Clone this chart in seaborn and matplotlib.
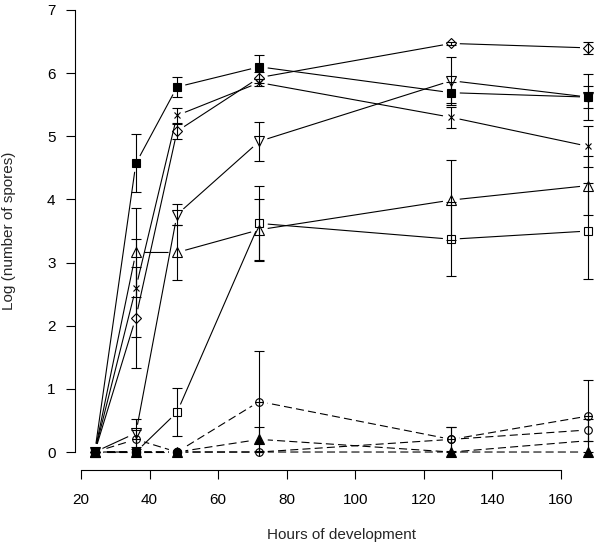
import numpy as np
import pandas as pd
import matplotlib
matplotlib.use("Agg")
import matplotlib.pyplot as plt
import seaborn as sns
from matplotlib.path import Path
from matplotlib.transforms import IdentityTransform

# ---------------- data ----------------
hours = [24, 36, 48, 72, 128, 168]
x_ticks = [20, 40, 60, 80, 100, 120, 140, 160]
y_ticks = [0, 1, 2, 3, 4, 5, 6, 7]

# solid-line series: mean log(number of spores) and standard error
filled_square = [0, 4.57, 5.78, 6.10, 5.69, 5.62]
filled_square_se = [0, 0.46, 0.16, 0.19, 0.17, 0.18]
cross = [0, 2.60, 5.33, 5.85, 5.30, 4.84]
cross_se = [0, 0.78, 0.12, 0.05, 0.17, 0.33]
open_diamond = [0, 2.13, 5.08, 5.93, 6.47, 6.40]
open_diamond_se = [0, 0.80, 0.12, 0.08, 0.03, 0.10]
down_triangle = [0, 0.30, 3.76, 4.92, 5.88, 5.62]
down_triangle_se = [0, 0.22, 0.16, 0.31, 0.38, 0.36]
up_triangle = [0, 3.16, 3.16, 3.52, 3.99, 4.22]
up_triangle_se = [0, 0.70, 0.44, 0.48, 0.63, 0.47]
open_square = [0, 0.0, 0.63, 3.62, 3.37, 3.50]
open_square_se = [0, 0, 0.38, 0.60, 0.59, 0.76]

# dashed-line series
circle_plus = [0, 0.20, 0, 0.80, 0.20, 0.57]
circle_plus_se = [0, 0.15, 0, 0.80, 0.19, 0.57]
open_circle = [0, 0, 0, 0, 0.20, 0.35]
open_circle_se = [0, 0, 0, 0, 0.20, 0.17]
filled_triangle = [0, 0, 0, 0.20, 0, 0]
filled_triangle_se = [0, 0, 0, 0.19, 0, 0]
plus = [0, 0, 0, 0, 0, 0.18]
plus_se = [0, 0, 0, 0, 0, 0]
filled_circle = [0, 0, 0, np.nan, np.nan, np.nan]
filled_circle_se = [0, 0, 0, 0, 0, 0]

# ---------------- style ----------------
sns.set_style("ticks")
plt.rcParams["font.family"] = ["Liberation Sans", "DejaVu Sans"]
plt.rcParams["lines.scale_dashes"] = False

W, H = 601, 546
fig = plt.figure(figsize=(W / 100, H / 100), dpi=100)
# plot region in pixels (R style: region extends 4% beyond data, partly cropped)
left_px, right_px = 75, 608.2
bottom_px, top_px = 469.7, -7.7
ax = fig.add_axes([left_px / W, (H - bottom_px) / H,
                   (right_px - left_px) / W, (bottom_px - top_px) / H])
ax.set_xlim(18.24, 173.76)
ax.set_ylim(-0.28, 7.28)

circ_plus_marker = Path.make_compound_path(
    Path.unit_circle(),
    Path([[-1, 0], [1, 0], [0, -1], [0, 1]],
         [Path.MOVETO, Path.LINETO, Path.MOVETO, Path.LINETO]))

dash = (0, (5.8, 3.0))
LW = 0.8
GAP = 8.5  # px gap between line ends and points (R type="b")

series = [
    (filled_square, filled_square_se, "s", 5.5, "black", "-"),
    (cross, cross_se, "x", 5.0, "black", "-"),
    (open_diamond, open_diamond_se, "D", 5.0, "none", "-"),
    (down_triangle, down_triangle_se, "v", 7.0, "none", "-"),
    (up_triangle, up_triangle_se, "^", 7.0, "none", "-"),
    (open_square, open_square_se, "s", 5.5, "none", "-"),
    (circle_plus, circle_plus_se, circ_plus_marker, 5.5, "none", dash),
    (open_circle, open_circle_se, "o", 5.5, "none", dash),
    (filled_triangle, filled_triangle_se, "^", 6.5, "black", dash),
    (plus, plus_se, "+", 5.5, "none", dash),
    (filled_circle, filled_circle_se, "o", 6.0, "black", dash),
]


def gap_clip(xs, ys):
    """Clip path: whole canvas minus small discs around each point."""
    pts = ax.transData.transform(np.column_stack([xs, ys]))
    pts = pts[~np.isnan(pts).any(axis=1)]
    big = 1e5
    verts = [[-big, -big], [big, -big], [big, big], [-big, big], [-big, -big]]
    codes = [Path.MOVETO] + [Path.LINETO] * 3 + [Path.CLOSEPOLY]
    th = np.linspace(0, -2 * np.pi, 41)  # clockwise -> hole
    for px, py in pts:
        ring = np.column_stack([px + GAP * np.cos(th), py + GAP * np.sin(th)])
        verts += ring.tolist()
        codes += [Path.MOVETO] + [Path.LINETO] * (len(ring) - 2) + [Path.CLOSEPOLY]
    return Path(np.array(verts), codes)


for vals, se, mk, ms, fc, ls in series:
    df = pd.DataFrame({"hours": hours, "value": vals, "se": se})
    # connecting line (with gaps around the points)
    sns.lineplot(data=df, x="hours", y="value", ax=ax, color="black",
                 linewidth=LW, linestyle=ls, errorbar=None, sort=False)
    ln = ax.lines[-1]
    ln.set_clip_path(gap_clip(df["hours"].values, df["value"].values),
                     IdentityTransform())
    # point symbols
    sns.lineplot(data=df, x="hours", y="value", ax=ax, color="black",
                 linestyle="none", marker=mk, markersize=ms,
                 markerfacecolor=fc, markeredgecolor="black",
                 markeredgewidth=LW, errorbar=None, sort=False)
    # standard error bars
    eb = df[(df["se"] > 0) & df["value"].notna()]
    if len(eb):
        ax.errorbar(eb["hours"], eb["value"], yerr=eb["se"], fmt="none",
                    ecolor="black", elinewidth=LW, capsize=3.3,
                    capthick=LW)

ax.set_xlim(18.24, 173.76)
ax.set_ylim(-0.28, 7.28)
ax.set_xticks(x_ticks)
ax.set_yticks(y_ticks)
ax.set_xticklabels([str(t) for t in x_ticks])
ax.set_yticklabels([str(t) for t in y_ticks])
for s in ("top", "right"):
    ax.spines[s].set_visible(False)
ax.spines["left"].set_bounds(0, 7)
ax.spines["bottom"].set_bounds(20, 160)
for s in ("left", "bottom"):
    ax.spines[s].set_linewidth(LW)
    ax.spines[s].set_color("black")
ax.tick_params(axis="both", direction="out", length=6.5, width=LW,
               colors="black", labelsize=11)
ax.tick_params(axis="y", pad=7.5)
ax.tick_params(axis="x", pad=10)

ax.set_xlabel("Hours of development", fontsize=11)
ax.set_ylabel("Log (number of spores)", fontsize=11)
ax.xaxis.set_label_coords(0.5, -0.122)
ax.yaxis.set_label_coords(-0.1107, 0.5)
ax.set_facecolor("white")
fig.patch.set_facecolor("white")

fig.savefig("out.png", dpi=100)
